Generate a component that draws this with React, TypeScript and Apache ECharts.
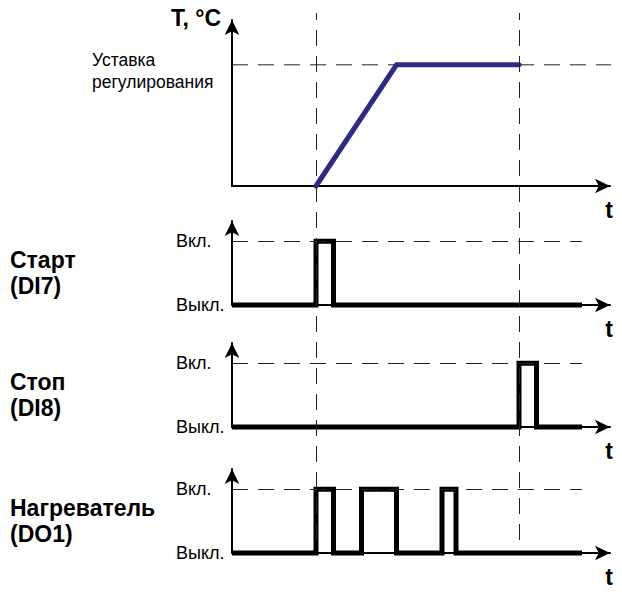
import React, { useEffect, useRef } from "react";
import * as echarts from "echarts";

// ---- data ----
const timeEnd = 100; // end of signal traces
const timeMax = 108; // end of time axis
const markerTimes = [24, 82]; // start / stop instants (vertical dashed)
const setpoint = 73;
const tempTimes = [24, 47, 82];
const tempValues = [0, 73, 73];
const startPulses = [[24, 29]];
const stopPulses = [[82, 87]];
const heaterPulses = [[24, 29], [37, 47], [60, 64]];
const onLabel = "Вкл.";
const offLabel = "Выкл.";
const panelNames = ["Старт\n(DI7)", "Стоп\n(DI8)", "Нагреватель\n(DO1)"];
const yAxisName = "T, °C";
const timeName = "t";
const setpointLabel = "Уставка\nрегулирования";

// ---- layout ----
const FONT = "'Liberation Sans', Arial, sans-serif";
const LEFT = 232;
const RIGHT = 12;
const panels = [
  { top: 20, height: 166 },
  { top: 221, height: 84 },
  { top: 343, height: 84 },
  { top: 469, height: 84 },
];
const signalMax = 1.32;

function stepPoints(pulses: number[][], end: number) {
  const pts: number[][] = [[0, 0]];
  for (const [on, off] of pulses) {
    pts.push([on, 0], [on, 1], [off, 1], [off, 0]);
  }
  pts.push([end, 0]);
  return pts;
}

const axisLineStyle = { color: "#000", width: 2 };

export default function App() {
  const ref = useRef<HTMLDivElement>(null);
  useEffect(() => {
    if (!ref.current) return;
    const chart = echarts.init(ref.current, undefined, { renderer: "svg" });

    const grids: any[] = [
      { left: LEFT, right: RIGHT, top: 13, height: 527 }, // overlay for vertical markers
      ...panels.map((p) => ({ left: LEFT, right: RIGHT, top: p.top, height: p.height })),
    ];

    const xAxes: any[] = grids.map((_, i) => ({
      type: "value",
      gridIndex: i,
      min: 0,
      max: timeMax,
      show: i !== 0,
      axisLine: {
        show: true,
        lineStyle: axisLineStyle,
        symbol: ["none", "arrow"],
        symbolSize: [11, 15],
      },
      axisTick: { show: false },
      axisLabel: { show: false },
      splitLine: { show: false },
    }));

    const baseY = (i: number, max: number) => ({
      type: "value",
      gridIndex: i,
      min: 0,
      max,
      axisLine: {
        show: true,
        onZero: false,
        lineStyle: axisLineStyle,
        symbol: ["none", "arrow"],
        symbolSize: [11, 15],
      },
      axisTick: { show: false },
      splitLine: { show: false },
    });

    const yAxes: any[] = [
      { type: "value", gridIndex: 0, min: 0, max: 1, show: false },
      { ...baseY(1, 100), axisLabel: { show: false } },
      ...[2, 3, 4].map((i) => ({
        ...baseY(i, signalMax),
        axisLabel: {
          customValues: [0, 1],
          formatter: (v: number) => (v === 0 ? offLabel : onLabel),
          align: "left",
          margin: LEFT - 176,
          fontSize: 18,
          color: "#000",
          fontFamily: FONT,
        },
      })),
    ];

    const dashed = { color: "#222", width: 1, type: [16, 10] as any };

    const series: any[] = [
      {
        type: "line",
        xAxisIndex: 0,
        yAxisIndex: 0,
        data: [],
        silent: true,
        markLine: {
          silent: true,
          symbol: "none",
          label: { show: false },
          lineStyle: dashed,
          data: markerTimes.map((t) => ({ xAxis: t })),
        },
        z: 1,
      },
      {
        type: "line",
        xAxisIndex: 1,
        yAxisIndex: 1,
        data: [
          [0, setpoint],
          [timeMax + 3.5, setpoint],
        ],
        clip: false,
        symbol: "none",
        lineStyle: dashed,
        z: 1,
      },
      {
        type: "line",
        xAxisIndex: 1,
        yAxisIndex: 1,
        data: tempTimes.map((t, k) => [t, tempValues[k]]),
        symbol: "none",
        clip: false,
        lineStyle: { color: "#2e2a84", width: 5, cap: "round", join: "miter" },
        z: 3,
      },
      ...[startPulses, stopPulses, heaterPulses].map((p, k) => ({
        type: "line",
        xAxisIndex: k + 2,
        yAxisIndex: k + 2,
        data: stepPoints(p, timeEnd),
        symbol: "none",
        clip: false,
        lineStyle: { color: "#000", width: 5, join: "miter", cap: "butt" },
        markLine: {
          silent: true,
          symbol: "none",
          label: { show: false },
          lineStyle: dashed,
          data: [[{ coord: [0, 1] }, { coord: [timeEnd, 1] }]],
        },
        z: 3,
      })),
    ];

    chart.setOption({
      animation: false,
      backgroundColor: "#fff",
      textStyle: { fontFamily: FONT },
      grid: grids,
      xAxis: xAxes,
      yAxis: yAxes,
      series,
    });

    const ySet = (chart.convertToPixel({ gridIndex: 1 } as any, [0, setpoint]) as number[])[1];

    const bold = { fontFamily: FONT, fontWeight: "bold", fontSize: 23, fill: "#000" };
    const graphic: any[] = [
      {
        type: "text",
        x: 221,
        y: 18,
        style: { ...bold, text: yAxisName, align: "right", verticalAlign: "middle" },
      },
      {
        type: "text",
        x: 92,
        y: ySet + 6,
        style: {
          fontFamily: FONT,
          fontSize: 17.5,
          lineHeight: 22,
          fill: "#000",
          text: setpointLabel,
          align: "left",
          verticalAlign: "middle",
        },
      },
      ...panels.map((p) => ({
        type: "text",
        x: 609,
        y: p.top + p.height + 24,
        style: { ...bold, text: timeName, align: "center", verticalAlign: "middle" },
      })),
      ...panelNames.map((n, k) => {
        const p = panels[k + 1];
        const yMid = p.top + p.height - (p.height / signalMax) * 0.5;
        return {
          type: "text",
          x: 10,
          y: yMid,
          style: { ...bold, text: n, lineHeight: 26, align: "left", verticalAlign: "middle" },
        };
      }),
    ];

    chart.setOption({ graphic });
    return () => chart.dispose();
  }, []);
  return (
    <div
      ref={ref}
      style={{ position: "fixed", left: 0, top: 0, width: 622, height: 592 }}
    />
  );
}
